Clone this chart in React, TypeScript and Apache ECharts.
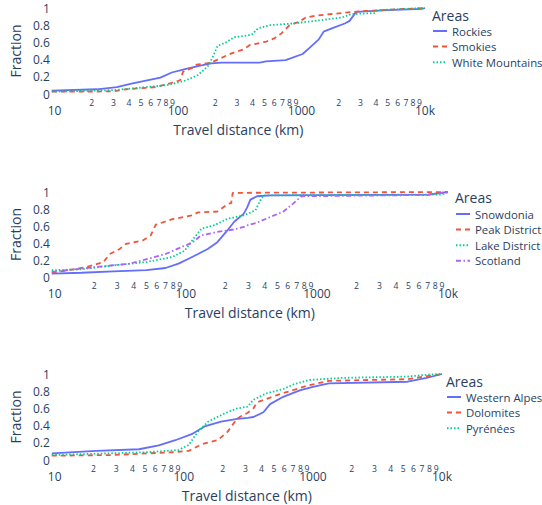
import React, { useEffect, useRef } from 'react';
import * as echarts from 'echarts';

// ---------- tick labels ----------
const majorTicks = [10, 100, 1000, 10000];
const majorTickLabels = ['10', '100', '1000', '10k'];
const minorTicks = [20, 30, 40, 50, 60, 70, 80, 90, 200, 300, 400, 500, 600, 700, 800, 900, 2000, 3000, 4000, 5000, 6000, 7000, 8000, 9000];
const minorTickLabels = ['2', '3', '4', '5', '6', '7', '8', '9', '2', '3', '4', '5', '6', '7', '8', '9', '2', '3', '4', '5', '6', '7', '8', '9'];
const yTicks = [0, 0.2, 0.4, 0.6, 0.8, 1];

// ---------- panel 1 ----------
const areas1 = ['Rockies', 'Smokies', 'White Mountains'];
const rockiesDist = [9.5, 22, 32, 42, 55, 72, 89, 114, 145, 186, 224, 457, 516, 745, 1020, 1150, 1380, 1510, 1780, 2240, 2450, 2770, 5000, 9500, 10000];
const rockiesFrac = [0.04, 0.055, 0.08, 0.12, 0.155, 0.19, 0.25, 0.29, 0.325, 0.355, 0.365, 0.365, 0.38, 0.395, 0.465, 0.53, 0.635, 0.725, 0.765, 0.82, 0.85, 0.955, 0.975, 0.99, 1];
const smokiesDist = [9.5, 30, 38, 66, 89, 104, 110, 129, 141, 186, 209, 268, 340, 382, 520, 607, 688, 800, 959, 1080, 1375, 1770, 2380, 3230, 6000, 10000];
const smokiesFrac = [0.027, 0.03, 0.055, 0.08, 0.13, 0.16, 0.26, 0.3, 0.34, 0.365, 0.4, 0.47, 0.52, 0.57, 0.61, 0.65, 0.705, 0.8, 0.84, 0.89, 0.915, 0.93, 0.95, 0.965, 0.985, 1];
const whiteDist = [9.5, 30, 55, 83, 114, 145, 174, 191, 209, 245, 284, 340, 396, 446, 556, 845, 1290, 2130, 2530, 3880, 4140, 10000];
const whiteFrac = [0.027, 0.045, 0.08, 0.105, 0.155, 0.22, 0.32, 0.43, 0.56, 0.6, 0.66, 0.675, 0.69, 0.765, 0.8, 0.82, 0.85, 0.89, 0.93, 0.94, 0.975, 1];

// ---------- panel 2 ----------
const areas2 = ['Snowdonia', 'Peak District', 'Lake District', 'Scotland'];
const snowdoniaDist = [9.5, 16, 28, 50, 70, 88, 105, 124, 147, 174, 203, 234, 277, 294, 311, 349, 440, 7000, 10000];
const snowdoniaFrac = [0.04, 0.05, 0.067, 0.082, 0.106, 0.157, 0.215, 0.27, 0.33, 0.41, 0.53, 0.65, 0.745, 0.82, 0.91, 0.95, 0.96, 0.97, 1];
const peakDist = [9.5, 12.5, 17.7, 23.5, 26.4, 31.3, 35, 47, 54, 59, 79, 111, 124, 174, 186, 210, 222, 228, 10000];
const peakFrac = [0.05, 0.08, 0.118, 0.176, 0.27, 0.33, 0.39, 0.43, 0.49, 0.615, 0.68, 0.725, 0.76, 0.77, 0.8, 0.86, 0.87, 0.99, 1];
const lakeDist = [9.5, 15.8, 28, 50, 79, 98, 117, 132, 166, 208, 277, 297, 340, 370, 392, 9000, 10000];
const lakeFrac = [0.08, 0.09, 0.137, 0.176, 0.235, 0.31, 0.47, 0.57, 0.61, 0.685, 0.725, 0.745, 0.785, 0.9, 0.96, 0.97, 1];
const scotlandDist = [9.5, 21, 37, 52, 70, 95, 111, 131, 174, 234, 277, 297, 350, 440, 555, 655, 760, 7000, 10000];
const scotlandFrac = [0.06, 0.118, 0.157, 0.215, 0.27, 0.36, 0.4, 0.49, 0.53, 0.56, 0.59, 0.61, 0.64, 0.705, 0.77, 0.86, 0.95, 0.965, 1];

// ---------- panel 3 ----------
const areas3 = ['Western Alpes', 'Dolomites', 'Pyrénées'];
const alpesDist = [9.5, 21, 45, 64, 86, 115, 145, 194, 260, 313, 346, 414, 466, 589, 792, 1000, 1330, 5400, 7600, 10000];
const alpesFrac = [0.078, 0.105, 0.125, 0.17, 0.23, 0.3, 0.39, 0.445, 0.477, 0.49, 0.5, 0.555, 0.65, 0.735, 0.81, 0.85, 0.89, 0.91, 0.955, 1];
const dolomitesDist = [9.5, 28, 81, 109, 137, 184, 219, 260, 313, 346, 370, 527, 660, 935, 1330, 5400, 8100, 10000];
const dolomitesFrac = [0.05, 0.058, 0.09, 0.105, 0.182, 0.233, 0.33, 0.485, 0.55, 0.6, 0.67, 0.755, 0.8, 0.87, 0.92, 0.94, 0.98, 1];
const pyreneesDist = [9.5, 51, 91, 109, 129, 154, 206, 260, 313, 346, 437, 589, 710, 935, 1670, 5400, 8100, 10000];
const pyreneesFrac = [0.058, 0.09, 0.116, 0.174, 0.33, 0.445, 0.54, 0.6, 0.62, 0.7, 0.775, 0.825, 0.88, 0.93, 0.955, 0.97, 0.995, 1];

const FONT = '"Open Sans", verdana, arial, sans-serif';
const TXT = '#2a3f5f';
const COLORS = ['#636efa', '#EF553B', '#00cc96', '#ab63fa'];
const DASHES: any[] = ['solid', [5, 4], [1.5, 2], [5, 2.5, 1.5, 2.5]];

const panels = [
  { names: areas1, dists: [rockiesDist, smokiesDist, whiteDist], fracs: [rockiesFrac, smokiesFrac, whiteFrac],
    grid: { left: 44, top: 8, width: 381, height: 86 }, legendLeft: 432, titleTop: 8, legendTop: 24 },
  { names: areas2, dists: [snowdoniaDist, peakDist, lakeDist, scotlandDist], fracs: [snowdoniaFrac, peakFrac, lakeFrac, scotlandFrac],
    grid: { left: 44, top: 192, width: 404, height: 85 }, legendLeft: 455, titleTop: 190, legendTop: 207 },
  { names: areas3, dists: [alpesDist, dolomitesDist, pyreneesDist], fracs: [alpesFrac, dolomitesFrac, pyreneesFrac],
    grid: { left: 44, top: 374, width: 398, height: 86 }, legendLeft: 446, titleTop: 374, legendTop: 390 },
];

function labelFor(v: number, ticks: number[], labels: string[]) {
  let best = 0;
  let bd = Infinity;
  ticks.forEach((t, i) => {
    const d = Math.abs(Math.log10(v) - Math.log10(t));
    if (d < bd) { bd = d; best = i; }
  });
  return labels[best];
}

export default function App() {
  const ref = useRef<HTMLDivElement>(null);
  useEffect(() => {
    if (!ref.current) return;
    const chart = echarts.init(ref.current, undefined, { renderer: 'svg' });
    const grid: any[] = [];
    const xAxis: any[] = [];
    const yAxis: any[] = [];
    const series: any[] = [];
    const legend: any[] = [];
    const title: any[] = [];
    panels.forEach((p, g) => {
      grid.push({ ...p.grid, containLabel: false });
      const common = {
        type: 'log', logBase: 10, gridIndex: g, min: 9.5, max: 10000, position: 'bottom',
        axisLine: { show: false }, axisTick: { show: false }, splitLine: { show: false },
        minorTick: { show: false }, minorSplitLine: { show: false },
      };
      xAxis.push({
        ...common,
        name: 'Travel distance (km)', nameLocation: 'middle', nameGap: 28,
        nameTextStyle: { fontSize: 14, color: TXT, fontFamily: FONT },
        axisLabel: { customValues: majorTicks, fontSize: 12, color: TXT, fontFamily: FONT, margin: 10,
          formatter: (v: number) => labelFor(v, majorTicks, majorTickLabels) },
      });
      xAxis.push({
        ...common,
        axisLabel: { customValues: minorTicks, fontSize: 8.6, color: TXT, fontFamily: FONT, margin: 4.5,
          formatter: (v: number) => labelFor(v, minorTicks, minorTickLabels) },
      });
      yAxis.push({
        type: 'value', gridIndex: g, min: 0, max: 1, interval: 0.2,
        axisLine: { show: false }, axisTick: { show: false }, splitLine: { show: false },
        axisLabel: { fontSize: 12, color: TXT, fontFamily: FONT, margin: 2,
          formatter: (v: number) => String(yTicks[Math.round(v * 5)]) },
        name: 'Fraction', nameLocation: 'middle', nameGap: 24,
        nameTextStyle: { fontSize: 14, color: TXT, fontFamily: FONT },
      });
      p.names.forEach((name, i) => {
        series.push({
          type: 'line', name, xAxisIndex: 2 * g, yAxisIndex: g,
          data: p.dists[i].map((d, k) => [d, p.fracs[i][k]]),
          symbol: 'none', showSymbol: false, color: COLORS[i],
          lineStyle: { color: COLORS[i], width: 1.8, type: DASHES[i] },
          itemStyle: { color: COLORS[i] },
        });
      });
      legend.push({
        data: p.names, orient: 'vertical', left: p.legendLeft, top: p.legendTop, padding: 0,
        itemWidth: 14, itemHeight: 14, itemGap: 1.6, selectedMode: false,
        itemStyle: { opacity: 0 },
        textStyle: { fontSize: 11.4, color: TXT, fontFamily: FONT, lineHeight: 14 },
      });
      title.push({
        text: 'Areas', left: p.legendLeft, top: p.titleTop, padding: 0,
        textStyle: { fontSize: 14, fontWeight: 'normal', color: TXT, fontFamily: FONT },
      });
    });
    chart.setOption({
      animation: false,
      backgroundColor: '#fff',
      textStyle: { fontFamily: FONT },
      title, legend, grid, xAxis, yAxis, series,
    });
    return () => chart.dispose();
  }, []);
  return <div ref={ref} style={{ position: 'fixed', left: 0, top: 0, width: 542, height: 505, background: '#fff' }} />;
}
